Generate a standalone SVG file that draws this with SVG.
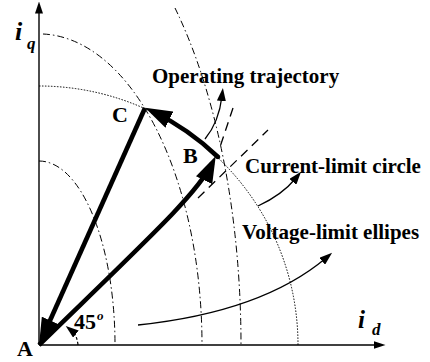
<svg xmlns="http://www.w3.org/2000/svg" width="430" height="362" viewBox="0 0 430 362">
<style>
.ax{fill:none;stroke:#000;stroke-width:1.4}
.dd{fill:none;stroke:#000;stroke-width:1;stroke-dasharray:7 3 1.5 3}
.dot{fill:none;stroke:#000;stroke-width:1;stroke-dasharray:1.5 1.5}
.dash{fill:none;stroke:#000;stroke-width:1.3;stroke-dasharray:9 6}
.thick{fill:none;stroke:#000;stroke-width:4.6}
.thin{fill:none;stroke:#000;stroke-width:1.3}
.adash{fill:none;stroke:#000;stroke-width:1.2;stroke-dasharray:3 2}
.head{fill:#000;stroke:none}
.lbl{font-family:"Liberation Serif","Times New Roman",serif;font-weight:bold;font-size:21px;fill:#000}
.pt{font-family:"Liberation Serif","Times New Roman",serif;font-weight:bold;font-size:22px;fill:#000}
.var{font-family:"Liberation Serif","Times New Roman",serif;font-weight:bold;font-style:italic;fill:#000}
</style>
<defs>
<marker id="big" markerUnits="userSpaceOnUse" viewBox="0 0 27 18" markerWidth="27" markerHeight="18" refX="19" refY="9" orient="auto"><path class="head" d="M0,0 L27,9 L0,18 z"/></marker>
<marker id="small" markerUnits="userSpaceOnUse" viewBox="0 0 13 9" markerWidth="13" markerHeight="9" refX="5" refY="4.5" orient="auto"><path class="head" d="M0,0 L13,4.5 L0,9 z"/></marker>
<marker id="axis" markerUnits="userSpaceOnUse" viewBox="0 0 12 8" markerWidth="12" markerHeight="8" refX="0.5" refY="4" orient="auto"><path class="head" d="M0,0 L12,4 L0,8 z"/></marker>
</defs>
<rect width="430" height="362" fill="#fff"/>
<g id="axes">
<path class="ax" d="M39,345 V13" marker-end="url(#axis)"/>
<path class="ax" d="M39,345 H374" marker-end="url(#axis)"/>
<text class="var" x="15" y="40" font-size="26">i</text>
<text class="var" x="27" y="49" font-size="17">q</text>
<text class="var" x="358" y="328" font-size="25">i</text>
<text class="var" x="372" y="335" font-size="17">d</text>
</g>
<g id="limit-curves">
<path class="dd" d="M39,161 A76,184 0 0 1 115,345"/>
<path class="dd" d="M43,34 A163,311 0 0 1 202,345"/>
<path class="dd" d="M175,8 A202,456 0 0 1 241,345"/>
<path class="dot" d="M39,86 A259,259 0 0 1 298,345"/>
<path class="dash" d="M198,198 L268,130"/>
<path class="dash" d="M233,108 L219,150"/>
</g>
<g id="connectors">
<path class="thick" d="M145,108 L42.3,337.7" marker-end="url(#big)"/>
<path class="thick" d="M39,345 C150,237 198,193 212.3,163.1" marker-end="url(#big)"/>
<path class="thick" d="M218,157 A259,259 0 0 0 152.3,111.3" marker-end="url(#big)"/>
<path class="thin" d="M205,139 Q219,122 222,96" marker-end="url(#small)"/>
<path class="thin" d="M258,206 Q282,195 296,178" marker-end="url(#small)"/>
<path class="thin" d="M138,325 Q262,312 326,258" marker-end="url(#small)"/>
<path class="adash" d="M78,345 Q77,335 72,331" marker-end="url(#small)"/>
</g>
<g id="node-A"><text class="pt" x="17" y="356">A</text></g>
<g id="node-B"><circle cx="218" cy="157" r="2.3"/><text class="pt" x="183" y="163">B</text></g>
<g id="node-C"><text class="pt" x="112" y="122">C</text></g>
<g id="angle"><text class="pt" x="74" y="329" font-size="23">45</text><text class="var" x="97" y="320" font-size="13">o</text></g>
<g id="label-trajectory"><text class="lbl" x="152" y="82.5">Operating trajectory</text></g>
<g id="label-current"><text class="lbl" x="245" y="173">Current-limit circle</text></g>
<g id="label-voltage"><text class="lbl" x="242" y="239">Voltage-limit ellipes</text></g>
</svg>
